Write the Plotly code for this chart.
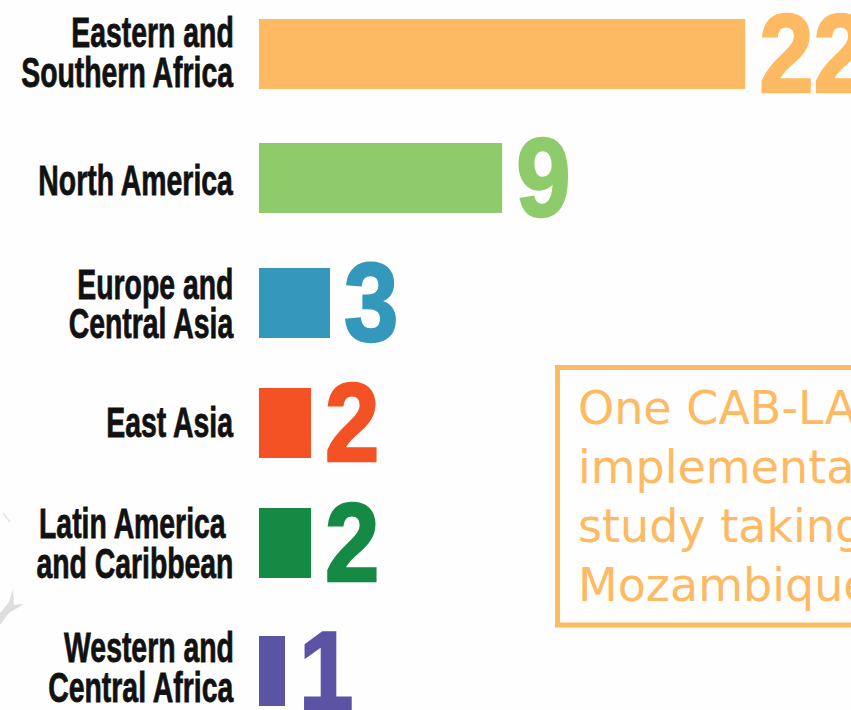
import plotly.graph_objects as go

region_lines = [["Eastern and", "Southern Africa"], ["North America"], ["Europe and", "Central Asia"],
                ["East Asia"], ["Latin America\u00a0", "and Caribbean"], ["Western and", "Central Africa"]]
counts = [22, 9, 3, 2, 2, 1]
# Drawn bar lengths: the picture's bars are not strictly proportional to the printed counts
bar_lengths = [18.7, 9.35, 2.73, 2, 2, 1]
colors = ["#FDBA63", "#8ECB6B", "#3498BC", "#F45124", "#148A45", "#5B54A4"]
note_lines = ["One CAB-LA", "implementation", "study taking place", "Mozambique"]

row_centres = [54, 178, 303, 423, 543, 671]
label_centres = [52, 180, 303.5, 422, 542.5, 667]
W, H = 851, 710
LEFT = 259
UNIT = 26
LABEL_FONT = "Liberation Sans"
px = lambda v: v / W
py = lambda v: 1 - v / H

fig = go.Figure(go.Bar(
    x=bar_lengths, y=row_centres, orientation="h", width=70,
    marker=dict(color=colors, line_width=0),
    text=[str(c) for c in counts], textposition="outside", constraintext="none",
    cliponaxis=False,
    textfont=dict(family=LABEL_FONT, size=111, color=colors, weight="bold"),
))
fig.update_layout(
    width=W, height=H, margin=dict(l=0, r=0, t=0, b=0),
    paper_bgcolor="#FEFEFE", plot_bgcolor="#FEFEFE", showlegend=False,
    xaxis=dict(domain=[LEFT / W, 1], range=[0, (W - LEFT) / UNIT], visible=False, fixedrange=True),
    yaxis=dict(range=[H, 0], visible=False, fixedrange=True, automargin=False),
)
# Region labels, one annotation per line so the line spacing can be tight
for lines, c in zip(region_lines, label_centres):
    n = len(lines)
    for i, line in enumerate(lines):
        fig.add_annotation(xref="paper", yref="paper", x=px(235), y=py(c + (i - (n - 1) / 2) * 40), text=line,
                           showarrow=False, xanchor="right", yanchor="middle", align="right",
                           font=dict(family=LABEL_FONT, size=43, color="#111111", weight="bold"))
label_count = sum(len(l) for l in region_lines)
# Note box
fig.add_shape(type="rect", xref="paper", yref="paper", x0=px(557.5), x1=px(900), y0=py(367.5), y1=py(625),
              line=dict(color="#FDBA63", width=5), fillcolor="rgba(0,0,0,0)")
for i, line in enumerate(note_lines):
    fig.add_annotation(xref="paper", yref="paper", x=px(576), y=py(408 + i * 59), text=line, showarrow=False,
                       xanchor="left", yanchor="middle", align="left",
                       font=dict(family="DejaVu Sans", size=46, color="#FDBA63"))
# Faint map fragments at the left edge
fig.add_shape(type="path", xref="paper", yref="paper", line_width=0, fillcolor="#DEDEDE",
              path=f"M {px(0)},{py(625)} L {px(9)},{py(613)} L {px(24)},{py(604)} L {px(14)},{py(605)} "
                   f"L {px(13)},{py(589)} L {px(9)},{py(602)} L {px(0)},{py(613)} Z")
fig.add_shape(type="line", xref="paper", yref="paper", x0=px(3), y0=py(513), x1=px(10), y1=py(522),
              line=dict(color="#E4E4E4", width=1.5))

post = f"""
document.body.style.margin = '0';
var gd = document.querySelector('.plotly-graph-div');
var anns = gd.querySelectorAll('.annotation');
anns.forEach(function (a, i) {{
  if (i >= {label_count}) return;
  a.querySelector('text').style.stroke = '#111111';
  a.querySelector('text').style.strokeWidth = '0.8px';
  var R = 235;
  a.setAttribute('transform', 'translate(' + R + ',0) scale(0.66,1) translate(' + (-R) + ',0)');
}});
gd.querySelectorAll('text.bartext').forEach(function (t) {{
  var L = t.getBoundingClientRect().left, old = t.getAttribute('transform') || '';
  t.style.stroke = t.style.fill;
  t.style.strokeWidth = '2.5px';
  t.setAttribute('transform', 'translate(' + (L - 20) + ',0) scale(0.88,1) translate(' + (-L) + ',0) ' + old);
}});
"""
fig.write_html("out.html", post_script=post, config={"displayModeBar": False})
